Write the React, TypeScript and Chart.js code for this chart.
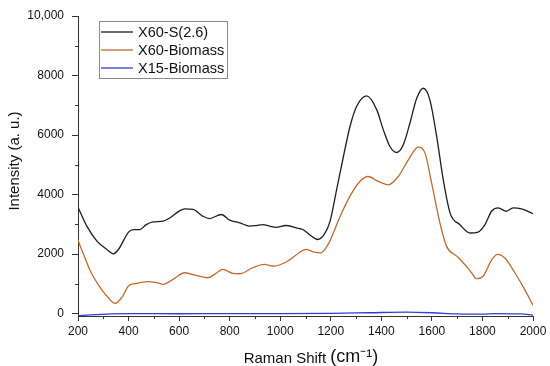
import React, { useEffect, useRef } from "react";
import { Chart, registerables } from "chart.js";

Chart.register(...registerables);

const seriesNames = ["X60-S(2.6)", "X60-Biomass", "X15-Biomass"];
const seriesColors = ["#1e1e1e", "#c06a2c", "#2f3fd4"];

const x60sX = [200, 235, 275, 314, 340, 360, 400, 420, 445, 470, 498, 537, 563, 603, 623, 655, 695, 720, 767, 800, 840, 879, 905, 931, 958, 984, 1023, 1063, 1089, 1115, 1148, 1174, 1197, 1223, 1250, 1276, 1302, 1342, 1382, 1408, 1434, 1461, 1487, 1513, 1540, 1566, 1592, 1619, 1645, 1672, 1711, 1751, 1783, 1810, 1836, 1862, 1895, 1921, 1954, 2000];
const x60sY = [3575, 2940, 2435, 2155, 2010, 2155, 2740, 2825, 2825, 2990, 3080, 3105, 3215, 3460, 3520, 3500, 3270, 3195, 3330, 3140, 3050, 2940, 2960, 2990, 2940, 2900, 2960, 2880, 2825, 2660, 2490, 2660, 3098, 4161, 5279, 6286, 6957, 7315, 6846, 6174, 5614, 5413, 5671, 6398, 7237, 7573, 7181, 5950, 4497, 3378, 2987, 2708, 2740, 2990, 3440, 3550, 3440, 3550, 3520, 3360];

const x60bX = [200, 222, 249, 288, 314, 347, 373, 400, 432, 478, 511, 537, 576, 622, 668, 714, 740, 773, 812, 839, 891, 937, 976, 1036, 1075, 1102, 1134, 1161, 1193, 1236, 1276, 1316, 1348, 1388, 1428, 1467, 1507, 1546, 1573, 1599, 1632, 1658, 1698, 1724, 1757, 1777, 1803, 1836, 1860, 1888, 1928, 1967, 2000];
const x60bY = [2470, 1990, 1430, 870, 590, 346, 536, 927, 1016, 1072, 1039, 983, 1150, 1374, 1285, 1206, 1318, 1486, 1352, 1340, 1541, 1653, 1597, 1798, 2044, 2156, 2066, 2044, 2379, 3250, 3950, 4450, 4607, 4440, 4329, 4607, 5168, 5593, 5392, 4385, 3043, 2259, 1932, 1709, 1374, 1173, 1262, 1798, 1988, 1877, 1374, 815, 279];

const x15bX = [200, 250, 400, 600, 800, 1000, 1200, 1350, 1500, 1600, 1700, 1800, 1850, 1950, 2000];
const x15bY = [-70, -40, 0, -5, 0, 0, 10, 30, 50, 30, -10, -20, 0, -10, -50];

const xTicks = [200, 400, 600, 800, 1000, 1200, 1400, 1600, 1800, 2000];
const xTickLabels = ["200", "400", "600", "800", "1000", "1200", "1400", "1600", "1800", "2000"];
const xMinorTicks = [300, 500, 700, 900, 1100, 1300, 1500, 1700, 1900];
const yTicks = [0, 2000, 4000, 6000, 8000, 10000];
const yTickLabels = ["0", "2000", "4000", "6000", "8000", "10,000"];
const yMinorTicks = [1000, 3000, 5000, 7000, 9000];

const FONT = "'Liberation Sans', Arial, sans-serif";

function pts(xs: number[], ys: number[]) {
  return xs.map((x, i) => ({ x, y: ys[i] }));
}

const decorPlugin = {
  id: "decor",
  afterDraw(chart: any) {
    const ctx = chart.ctx as CanvasRenderingContext2D;
    const xs = chart.scales.x;
    const ys = chart.scales.y;
    const area = chart.chartArea;
    ctx.save();
    // minor ticks
    ctx.strokeStyle = "#333";
    ctx.lineWidth = 1;
    ctx.beginPath();
    xMinorTicks.forEach((v) => {
      const px = Math.round(xs.getPixelForValue(v)) + 0.5;
      ctx.moveTo(px, area.bottom);
      ctx.lineTo(px, area.bottom + 3);
    });
    yMinorTicks.forEach((v) => {
      const py = Math.round(ys.getPixelForValue(v)) + 0.5;
      ctx.moveTo(area.left, py);
      ctx.lineTo(area.left - 3, py);
    });
    ctx.stroke();

    // legend box
    ctx.strokeStyle = "#8a8a8a";
    ctx.lineWidth = 1;
    ctx.strokeRect(99.5, 21.5, 128, 57);
    ctx.font = `14.5px ${FONT}`;
    ctx.textBaseline = "middle";
    ctx.textAlign = "left";
    const rows = [32, 50, 68];
    seriesNames.forEach((name, i) => {
      ctx.strokeStyle = seriesColors[i];
      ctx.lineWidth = 1.3;
      ctx.beginPath();
      ctx.moveTo(101, rows[i]);
      ctx.lineTo(133, rows[i]);
      ctx.stroke();
      ctx.fillStyle = "#111";
      ctx.fillText(name, 138, rows[i] + 0.5);
    });

    // y title
    ctx.save();
    ctx.translate(15, 161);
    ctx.rotate(-Math.PI / 2);
    ctx.font = `15px ${FONT}`;
    ctx.textAlign = "center";
    ctx.textBaseline = "middle";
    ctx.fillStyle = "#111";
    ctx.fillText("Intensity (a. u.)", 0, 0);
    ctx.restore();

    // x title
    const part1 = "Raman Shift ";
    const part2 = "(cm⁻¹)";
    ctx.font = `15px ${FONT}`;
    const w1 = ctx.measureText(part1).width;
    ctx.font = `18px ${FONT}`;
    const w2 = ctx.measureText(part2).width;
    const startX = 311 - (w1 + w2) / 2;
    const baseY = 363;
    ctx.textAlign = "left";
    ctx.textBaseline = "alphabetic";
    ctx.fillStyle = "#111";
    ctx.font = `15px ${FONT}`;
    ctx.fillText(part1, startX, baseY);
    ctx.font = `18px ${FONT}`;
    ctx.fillText(part2, startX + w1, baseY - 1);
    ctx.restore();
  },
};

export default function App() {
  const ref = useRef<HTMLCanvasElement | null>(null);
  useEffect(() => {
    if (!ref.current) return;
    const chart = new Chart(ref.current, {
      type: "line",
      data: {
        datasets: [
          { label: seriesNames[0], data: pts(x60sX, x60sY), borderColor: seriesColors[0] },
          { label: seriesNames[1], data: pts(x60bX, x60bY), borderColor: seriesColors[1] },
          { label: seriesNames[2], data: pts(x15bX, x15bY), borderColor: seriesColors[2] },
        ].map((d) => ({
          ...d,
          borderWidth: 1.3,
          pointRadius: 0,
          fill: false,
          cubicInterpolationMode: "monotone" as const,
        })),
      },
      options: {
        animation: false,
        responsive: false,
        layout: { padding: { top: 16, right: 17, left: 0, bottom: 0 } },
        plugins: { legend: { display: false }, tooltip: { enabled: false } },
        scales: {
          x: {
            type: "linear",
            min: 200,
            max: 2000,
            afterBuildTicks: (s: any) => {
              s.ticks = xTicks.map((v) => ({ value: v }));
            },
            afterFit: (s: any) => {
              s.height = 50;
            },
            ticks: {
              font: { family: FONT, size: 12 },
              color: "#111",
              padding: 3,
              maxRotation: 0,
              autoSkip: false,
              callback: (v: any) => {
                const i = xTicks.indexOf(Number(v));
                return i >= 0 ? xTickLabels[i] : "";
              },
            },
            grid: { drawOnChartArea: false, drawTicks: true, tickLength: 5, color: "#333" },
            border: { display: true, color: "#333", width: 1 },
          },
          y: {
            type: "linear",
            min: -80,
            max: 10000,
            afterBuildTicks: (s: any) => {
              s.ticks = yTicks.map((v) => ({ value: v }));
            },
            afterFit: (s: any) => {
              s.width = 78;
            },
            ticks: {
              font: { family: FONT, size: 12 },
              color: "#111",
              padding: 8,
              autoSkip: false,
              callback: (v: any) => {
                const i = yTicks.indexOf(Number(v));
                return i >= 0 ? yTickLabels[i] : "";
              },
            },
            grid: { drawOnChartArea: false, drawTicks: true, tickLength: 6, color: "#333" },
            border: { display: true, color: "#333", width: 1 },
          },
        },
      },
      plugins: [decorPlugin],
    });
    return () => chart.destroy();
  }, []);
  return (
    <canvas
      ref={ref}
      width={550}
      height={366}
      style={{ position: "fixed", left: 0, top: 0, display: "block" }}
    />
  );
}
